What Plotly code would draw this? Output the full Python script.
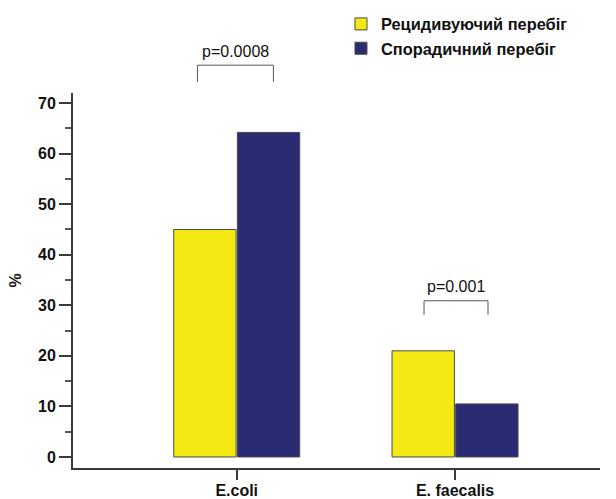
import plotly.graph_objects as go

categories = ["E.coli", "E. faecalis"]
series_names = ["Рецидивуючий перебіг", "Спорадичний перебіг"]
recurrent = [45.0, 21.0]
sporadic = [64.2, 10.5]
colors = ["#F5E914", "#2A2B72"]

# significance brackets: left/right offsets from category index, leg bottom, top (data units), label
p_labels = ["p=0.0008", "p=0.001"]
p_left = [-0.18, -0.142]
p_right = [0.168, 0.151]
p_bottom = [74.2, 28.1]
p_top = [77.5, 30.9]
p_text_y = [80.3, 33.7]

y_range = [-2.18, 72.0]

FONT = "Liberation Sans, Arial, sans-serif"
AX = "#3a3a3a"
FS = 16

fig = go.Figure()
for name, vals, col in zip(series_names, [recurrent, sporadic], colors):
    fig.add_trace(go.Bar(
        x=list(range(len(categories))), y=vals, name=name,
        marker=dict(color=col, line=dict(color="#4a4a4a", width=1)),
    ))


def to_paper(v):
    return (v - y_range[0]) / (y_range[1] - y_range[0])


shapes = []
annotations = []
for i, lab in enumerate(p_labels):
    xl, xr = i + p_left[i], i + p_right[i]
    yb, yt = to_paper(p_bottom[i]), to_paper(p_top[i])
    shapes.append(dict(type="path", xref="x", yref="paper",
                       path=f"M {xl},{yb} L {xl},{yt} L {xr},{yt} L {xr},{yb}",
                       line=dict(color="#555555", width=1)))
    annotations.append(dict(x=(xl + xr) / 2, y=to_paper(p_text_y[i]), xref="x", yref="paper",
                            text=lab, showarrow=False, xanchor="center", yanchor="middle",
                            font=dict(family=FONT, size=FS, color="#111111")))

fig.update_layout(
    width=616, height=499,
    margin=dict(l=73, r=16, t=93, b=31, pad=0, autoexpand=False),
    paper_bgcolor="white", plot_bgcolor="white",
    barmode="group", bargap=0.417, bargroupgap=0.02,
    showlegend=True,
    legend=dict(x=0.5085, y=1.23, xanchor="left", yanchor="top",
                font=dict(family=FONT, size=16.4, color="#111111", weight="bold"),
                bgcolor="rgba(0,0,0,0)"),
    shapes=shapes, annotations=annotations,
    font=dict(family=FONT, color="#111111"),
)

fig.update_xaxes(
    range=[-0.75, 1.664], tickmode="array", tickvals=list(range(len(categories))),
    ticktext=categories, showgrid=False, zeroline=False, automargin=False,
    showline=True, linecolor=AX, linewidth=2,
    ticks="outside", ticklen=10, tickwidth=2, tickcolor=AX, ticklabelstandoff=-3,
    tickfont=dict(family=FONT, size=FS, color="#111111", weight="bold"),
)
fig.update_yaxes(
    range=y_range, tickmode="linear", tick0=0, dtick=10, showgrid=False, zeroline=False,
    automargin=False,
    showline=True, linecolor=AX, linewidth=2,
    ticks="outside", ticklen=12, tickwidth=2, tickcolor=AX,
    minor=dict(tickmode="linear", tick0=5, dtick=10, ticks="outside", ticklen=6,
               tickwidth=2, tickcolor="#555555", showgrid=False),
    tickfont=dict(family=FONT, size=FS, color="#111111", weight="bold"),
    title=dict(text="%", standoff=12, font=dict(family=FONT, size=FS, color="#111111", weight="bold")),
)

fig.write_html("out.html", config={"displayModeBar": False},
               post_script="document.body.style.margin='0';document.body.style.overflow='hidden';")
